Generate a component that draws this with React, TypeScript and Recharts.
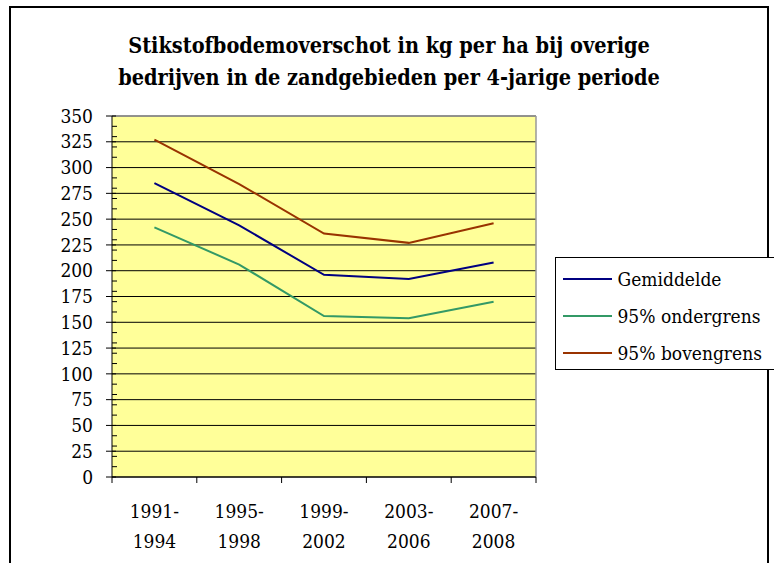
import React from 'react';
import { LineChart, Line, XAxis, YAxis, CartesianGrid, Legend, ReferenceLine } from 'recharts';

// periods on the x axis
const periods = ['1991-1994', '1995-1998', '1999-2002', '2003-2006', '2007-2008'];

// N soil surplus, kg per ha
const gemiddelde = [285, 244, 196, 192, 208];
const ondergrens = [242, 206, 156, 154, 170];
const bovengrens = [327, 284, 236, 227, 246];

const seriesNames = ['Gemiddelde', '95% ondergrens', '95% bovengrens'];

const yMajorTicks = [0, 25, 50, 75, 100, 125, 150, 175, 200, 225, 250, 275, 300, 325, 350];
const yMinorStep = 10;

const data = periods.map((period, i) => ({
  period,
  gemiddelde: gemiddelde[i],
  ondergrens: ondergrens[i],
  bovengrens: bovengrens[i],
}));

const yTicks = Array.from(
  new Set([...yMajorTicks, ...Array.from({ length: 36 }, (_, i) => i * yMinorStep)])
).sort((a, b) => a - b);

// only DejaVu serif faces are available here
const FONT = "'DejaVu Serif Condensed', 'DejaVu Serif', serif";
const textStyle = { fontFamily: FONT, fontStretch: 'condensed' as const };

function YTick(props: any) {
  const { x, y, payload } = props;
  const v = payload.value;
  const major = yMajorTicks.includes(v);
  if (!major) {
    return <line x1={x} x2={x + 5} y1={y} y2={y} stroke="#000" strokeWidth={1} />;
  }
  return (
    <g>
      <line x1={x - 6} x2={x + 4} y1={y} y2={y} stroke="#000" strokeWidth={1} />
      <text x={x - 19} y={y} dy="0.35em" textAnchor="end" style={textStyle} fontSize={19} fill="#000">
        {v}
      </text>
    </g>
  );
}

function XTick(props: any) {
  const { x, y, payload, index } = props;
  const half = payload.offset ?? 0;
  const [from, to] = String(payload.value).split('-');
  const last = index === periods.length - 1;
  return (
    <g>
      <line x1={x - half} x2={x - half} y1={y} y2={y + 6} stroke="#000" />
      {last && <line x1={x + half} x2={x + half} y1={y} y2={y + 6} stroke="#000" />}
      <text x={x} y={y + 34} dy="0.35em" textAnchor="middle" style={textStyle} fontSize={19} fill="#000">
        {from}-
      </text>
      <text x={x} y={y + 64} dy="0.35em" textAnchor="middle" style={textStyle} fontSize={19} fill="#000">
        {to}
      </text>
    </g>
  );
}

function LegendBox(props: any) {
  const { payload = [] } = props;
  const items = [...payload].sort((a: any, b: any) => seriesNames.indexOf(a.value) - seriesNames.indexOf(b.value));
  return (
    <div
      style={{
        border: '1.5px solid #000',
        background: '#fff',
        width: 240,
        height: 113,
        boxSizing: 'border-box',
        paddingTop: 2,
        ...textStyle,
        fontSize: 19,
        color: '#000',
      }}
    >
      {items.map((p: any) => (
        <div key={p.value} style={{ display: 'flex', alignItems: 'center', height: 37 }}>
          <span style={{ width: 49, height: 2, background: p.color, marginLeft: 6.5, marginRight: 6 }} />
          <span style={{ whiteSpace: 'nowrap' }}>{p.value}</span>
        </div>
      ))}
    </div>
  );
}

export default function App() {
  return (
    <div
      style={{
        position: 'absolute',
        left: 0,
        top: 0,
        width: 774,
        height: 563,
        overflow: 'hidden',
        background: '#fff',
      }}
    >
      <div
        style={{
          position: 'absolute',
          left: 9,
          top: 6,
          width: 756,
          height: 620,
          border: '2px solid #000',
        }}
      />
      <div
        style={{
          position: 'absolute',
          left: 10,
          top: 30,
          width: 758,
          textAlign: 'center',
          ...textStyle,
          fontWeight: 'bold',
          fontSize: 21.5,
          lineHeight: '32px',
          color: '#000',
        }}
      >
        Stikstofbodemoverschot in kg per ha bij overige
        <br />
        bedrijven in de zandgebieden per 4-jarige periode
      </div>
      <div style={{ position: 'absolute', left: 0, top: 0 }}>
        <LineChart width={774} height={563} data={data} margin={{ top: 116, right: 238, bottom: 16, left: 52 }}>
          <CartesianGrid fill="#FFFF99" vertical={false} horizontalValues={yMajorTicks} stroke="#000" strokeOpacity={1} />
          <XAxis
            dataKey="period"
            scale="band"
            interval={0}
            height={70}
            tickSize={0}
            tickMargin={0}
            tickLine={false}
            axisLine={{ stroke: '#000' }}
            tick={(p: any) => <XTick {...p} />}
          />
          <YAxis
            domain={[0, 350]}
            ticks={yTicks}
            interval={0}
            width={60}
            tickSize={0}
            tickMargin={0}
            tickLine={false}
            axisLine={{ stroke: '#000' }}
            tick={(p: any) => <YTick {...p} />}
          />
          <ReferenceLine y={350} stroke="#999" strokeWidth={1.5} />
          <ReferenceLine x={periods[periods.length - 1]} position="end" stroke="#999" strokeWidth={1.5} />
          <Legend
            layout="vertical"
            align="center"
            verticalAlign="middle"
            wrapperStyle={{ left: 555, top: 257, width: 240 }}
            content={(p: any) => <LegendBox {...p} />}
          />
          <Line name={seriesNames[0]} dataKey="gemiddelde" stroke="#000080" strokeWidth={2} dot={false} isAnimationActive={false} />
          <Line name={seriesNames[1]} dataKey="ondergrens" stroke="#339966" strokeWidth={2} dot={false} isAnimationActive={false} />
          <Line name={seriesNames[2]} dataKey="bovengrens" stroke="#993300" strokeWidth={2} dot={false} isAnimationActive={false} />
        </LineChart>
      </div>
    </div>
  );
}
